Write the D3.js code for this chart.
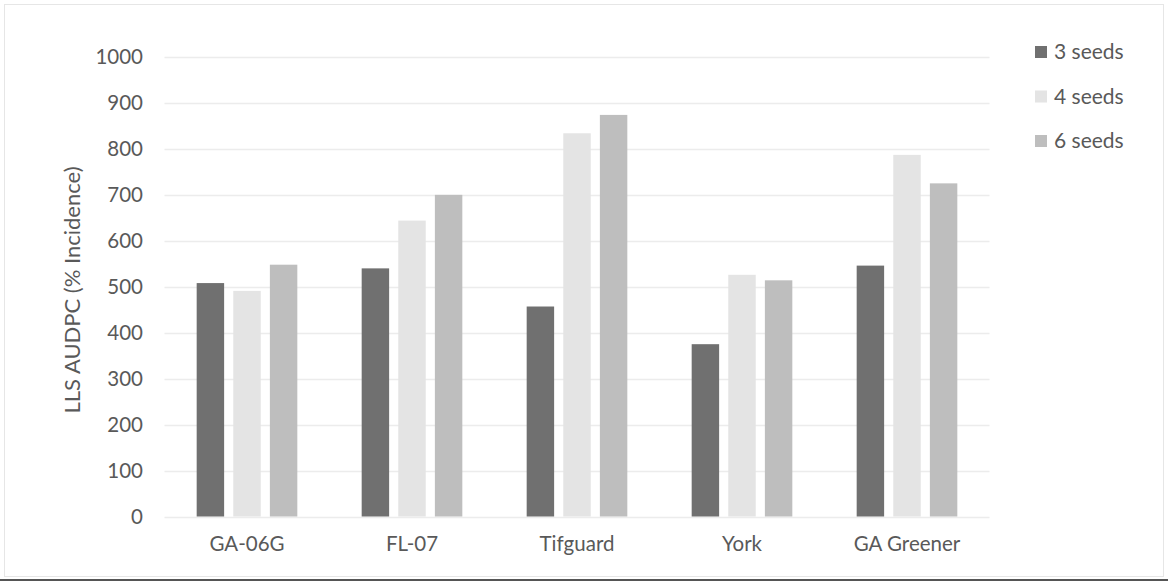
<!DOCTYPE html>
<html>
<head>
<meta charset="utf-8">
<script src="https://cdn.jsdelivr.net/npm/d3@7"></script>
<style>
  html, body { margin: 0; padding: 0; background: #fff; }
  svg { display: block; }
  text { font-family: Lato, "Open Sans", sans-serif; fill: #595959; }
</style>
</head>
<body>
<svg id="chart" width="1168" height="582"></svg>
<script>
const categories = ["GA-06G", "FL-07", "Tifguard", "York", "GA Greener"];
const seriesNames = ["3 seeds", "4 seeds", "6 seeds"];
const seeds3 = [508, 540, 457, 375, 546];
const seeds4 = [491, 644, 834, 526, 787];
const seeds6 = [548, 700, 874, 514, 725];
const yTicks = [0, 100, 200, 300, 400, 500, 600, 700, 800, 900, 1000];
const colors = ["#707070", "#e4e4e4", "#bebebe"];

(function () {
const svg = d3.select("#chart");
const W = 1168, H = 582;
const FONT = "Lato, 'Open Sans', sans-serif";

// frame (scanned chart area border)
svg.append("rect").attr("x", 4.5).attr("y", 4.5).attr("width", 1159).attr("height", 572)
  .attr("fill", "none").attr("stroke", "#e6e6e6").attr("stroke-width", 1);
svg.append("line").attr("x1", 0).attr("x2", W).attr("y1", 580).attr("y2", 580)
  .attr("stroke", "#555").attr("stroke-width", 2);

const mLeft = 164.5, mRight = 989.5, mTop = 57, mBottom = 516.5;

const y = d3.scaleLinear().domain([0, 1000]).range([mBottom, mTop]);
const x0 = d3.scaleBand().domain(categories).range([mLeft, mRight]).paddingInner(0.39).paddingOuter(0.195);
const x1 = d3.scaleBand().domain(seriesNames).range([0, x0.bandwidth()]).paddingInner(0.25).paddingOuter(0);

// gridlines
svg.append("g").selectAll("line").data(yTicks).join("line")
  .attr("x1", mLeft).attr("x2", mRight)
  .attr("y1", d => Math.round(y(d)) + 0.5).attr("y2", d => Math.round(y(d)) + 0.5)
  .attr("stroke", "#ececec").attr("stroke-width", 1.5);

// y axis labels
const yAxis = d3.axisLeft(y).tickValues(yTicks).tickFormat(d3.format("d")).tickSize(0).tickPadding(0);
const ya = svg.append("g").attr("transform", `translate(${143},0)`).call(yAxis);
ya.select(".domain").remove();
ya.selectAll("text").style("font-size", "20.5px").attr("fill", "#595959").style("font-family", FONT);

// x axis labels
const xAxis = d3.axisBottom(x0).tickSize(0).tickPadding(0);
const xa = svg.append("g").attr("transform", `translate(0,${536})`).call(xAxis);
xa.select(".domain").remove();
xa.selectAll("text").style("font-size", "20.5px").attr("fill", "#595959").style("font-family", FONT);

// bars
const series = [seeds3, seeds4, seeds6];
const data = categories.map((c, i) => ({ cat: c, vals: seriesNames.map((s, j) => ({ s, j, v: series[j][i] })) }));
const groups = svg.append("g").selectAll("g").data(data).join("g")
  .attr("transform", d => `translate(${x0(d.cat)},0)`);
groups.selectAll("rect").data(d => d.vals).join("rect")
  .attr("x", d => x1(d.s))
  .attr("width", x1.bandwidth())
  .attr("y", d => y(d.v))
  .attr("height", d => y(0) - y(d.v))
  .attr("fill", d => colors[d.j]);

// y axis title
svg.append("text")
  .attr("transform", `translate(${80},${290}) rotate(-90)`)
  .attr("text-anchor", "middle")
  .style("font-size", "22px")
  .text("LLS AUDPC (% Incidence)");

// legend
const legend = svg.append("g").attr("transform", "translate(1035,52)");
const li = legend.selectAll("g").data(seriesNames).join("g")
  .attr("transform", (d, i) => `translate(0,${i * 44.5})`);
li.append("rect").attr("x", 0).attr("y", -6).attr("width", 12).attr("height", 12)
  .attr("fill", (d, i) => colors[i]);
li.append("text").attr("x", 19).attr("y", 0).attr("dy", "0.35em")
  .style("font-size", "21px").text(d => d);
})();
</script>
</body>
</html>
